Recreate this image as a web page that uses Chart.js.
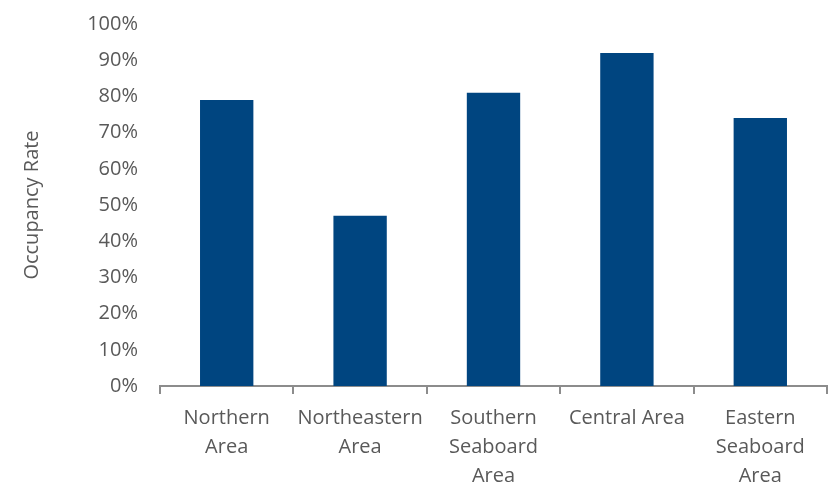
<!DOCTYPE html>
<html>
<head>
<meta charset="utf-8">
<script src="https://cdn.jsdelivr.net/npm/chart.js@4"></script>
<style>
  html, body { margin: 0; padding: 0; background: #fff; }
  #wrap { width: 836px; height: 485px; }
</style>
</head>
<body>
<div id="wrap"><canvas id="chart"></canvas></div>
<script>
// --------------------------- Data
const areas = [
    ['Northern', 'Area'],
    ['Northeastern', 'Area'],
    ['Southern', 'Seaboard', 'Area'],
    ['Central Area'],
    ['Eastern', 'Seaboard', 'Area']
];
const occupancy = [79, 47, 81, 92, 74];   // percent

const TEXT = '#595959';
const BAR = '#004580';
const FONT = { family: 'Open Sans', size: 20 };

const ctx = document.getElementById('chart');

const main_chart = new Chart(ctx, {
    type: 'bar',
    data: {
        labels: areas,
        datasets: [{
            label: 'Occupancy Rate',
            data: occupancy,
            backgroundColor: BAR,
            barPercentage: 0.4,
            categoryPercentage: 1.0
        }]
    },
    options: {
        responsive: true,
        maintainAspectRatio: false,
        animation: false,
        layout: { padding: { top: 21, right: 9, left: 20, bottom: 0 } },
        plugins: {
            legend: { display: false },
            tooltip: { enabled: false }
        },
        scales: {
            x: {
                offset: true,
                grid: {
                    offset: true,
                    drawOnChartArea: false,
                    drawTicks: true,
                    tickLength: 8,
                    color: '#8c8c8c',
                    lineWidth: 2
                },
                border: { color: '#8c8c8c', width: 2 },
                ticks: {
                    color: TEXT,
                    font: { family: 'Open Sans', size: 20, lineHeight: 1.45 },
                    padding: 10,
                    maxRotation: 0
                },
                afterFit: function(scale) {
                    scale.height = 99;   // axis line sits at y=386
                }
            },
            y: {
                min: 0,
                max: 100,
                grid: { display: false },
                border: { display: false },
                ticks: {
                    stepSize: 10,
                    color: TEXT,
                    padding: 14,
                    font: { family: 'Open Sans', size: 20, lineHeight: 1.0 },
                    callback: v => v + '%'
                },
                title: {
                    display: true,
                    text: 'Occupancy Rate',
                    color: TEXT,
                    font: FONT,
                    padding: { top: 0, bottom: 0 }
                },
                afterFit: function(scale) {
                    scale.width = 140;   // plot starts at x=160 like the original
                }
            }
        }
    }
});
</script>
</body>
</html>
